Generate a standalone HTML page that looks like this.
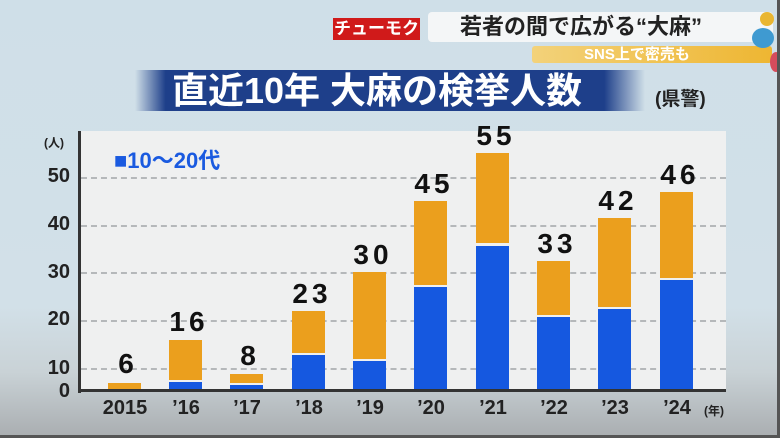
<!DOCTYPE html>
<html><head><meta charset="utf-8"><style>
*{margin:0;padding:0;box-sizing:border-box}
body{width:780px;height:438px;overflow:hidden;position:relative;font-family:"Liberation Sans","Noto Sans CJK JP",sans-serif;
background:linear-gradient(180deg,#cfdfe8 0%,#d2e0e8 70%,#c9d2d6 85%,#a9adb0 100%)}
.a{position:absolute}
.bar{position:absolute;width:33px}
.o{background:#eb9f1d}.b{background:#1558e0}
.v{position:absolute;width:70px;text-align:center;font-weight:bold;font-size:28px;color:#111;letter-spacing:4px}
.x{position:absolute;width:70px;text-align:center;font-weight:bold;font-size:20px;color:#222}
.y{position:absolute;left:38px;width:32px;text-align:right;font-weight:bold;font-size:20px;color:#222}
.g{position:absolute;left:81px;width:645px;border-top:2px dashed #b5b8ba}
</style></head><body>
<div class="a" style="left:428px;top:12px;width:345px;height:30px;background:#f4f6f7;border-radius:4px"></div>
<div class="a" style="left:333px;top:18px;width:87px;height:22px;background:#d01a1a;color:#fff;font-weight:bold;font-size:17px;text-align:center;line-height:22px">チューモク</div>
<div class="a" style="left:460px;top:12px;width:280px;height:30px;font-weight:bold;font-size:22px;line-height:30px;color:#222">若者の間で広がる“大麻”</div>
<div class="a" style="left:532px;top:46px;width:240px;height:17px;background:linear-gradient(90deg,#f3d27a,#eeb632);border-radius:3px;color:#fff;font-weight:bold;font-size:15px;line-height:17px;padding-left:52px">SNS上で密売も</div>
<div class="a" style="left:760px;top:12px;width:14px;height:14px;border-radius:50%;background:#e9b632"></div>
<div class="a" style="left:752px;top:28px;width:22px;height:20px;border-radius:50%;background:#3f9ad1"></div>
<div class="a" style="left:770px;top:52px;width:12px;height:20px;border-radius:50%;background:#d64c5c"></div>
<div class="a" style="left:135px;top:70px;width:510px;height:41px;background:linear-gradient(90deg,rgba(30,60,130,0) 0%,#1e3f8a 6%,#1e3f8a 92%,rgba(30,60,130,0) 100%)"></div>
<div class="a" style="left:172px;top:70px;height:41px;line-height:41px;color:#fff;font-size:36px;font-weight:bold;white-space:nowrap">直近10年 大麻の検挙人数</div>
<div class="a" style="left:655px;top:84px;font-weight:bold;font-size:19px;color:#222">(県警)</div>
<div class="a" style="left:81px;top:131px;width:645px;height:260px;background:#eff0f0"></div>
<div class="g" style="top:177px"></div><div class="g" style="top:225px"></div><div class="g" style="top:272px"></div><div class="g" style="top:320px"></div><div class="g" style="top:368px"></div>
<div class="a" style="left:78px;top:131px;width:3px;height:262px;background:#333"></div>
<div class="a" style="left:78px;top:389px;width:648px;height:3px;background:#333"></div>
<div class="a" style="left:44px;top:134px;font-weight:bold;font-size:12px;color:#222">(人)</div>
<div class="a" style="left:114px;top:143px;font-weight:bold;font-size:22px;color:#1a5ae0">■10～20代</div>
<div class="y" style="top:165px">50</div><div class="y" style="top:213px">40</div><div class="y" style="top:261px">30</div><div class="y" style="top:308px">20</div><div class="y" style="top:357px">10</div><div class="y" style="top:380px">0</div>

<div class="bar o" style="left:108px;top:383px;height:6px"></div>
<div class="bar o" style="left:169px;top:340px;height:40px"></div><div class="bar b" style="left:169px;top:382px;height:7px"></div>
<div class="bar o" style="left:230px;top:374px;height:9px"></div><div class="bar b" style="left:230px;top:385px;height:4px"></div>
<div class="bar o" style="left:292px;top:311px;height:42px"></div><div class="bar b" style="left:292px;top:355px;height:34px"></div>
<div class="bar o" style="left:353px;top:272px;height:87px"></div><div class="bar b" style="left:353px;top:361px;height:28px"></div>
<div class="bar o" style="left:414px;top:201px;height:84px"></div><div class="bar b" style="left:414px;top:287px;height:102px"></div>
<div class="bar o" style="left:476px;top:153px;height:90px"></div><div class="bar b" style="left:476px;top:246px;height:143px"></div>
<div class="bar o" style="left:537px;top:261px;height:54px"></div><div class="bar b" style="left:537px;top:317px;height:72px"></div>
<div class="bar o" style="left:598px;top:218px;height:89px"></div><div class="bar b" style="left:598px;top:309px;height:80px"></div>
<div class="bar o" style="left:660px;top:192px;height:86px"></div><div class="bar b" style="left:660px;top:280px;height:109px"></div>

<div class="v" style="left:93px;top:348px">6</div>
<div class="v" style="left:154px;top:306px">16</div>
<div class="v" style="left:215px;top:340px">8</div>
<div class="v" style="left:277px;top:278px">23</div>
<div class="v" style="left:338px;top:239px">30</div>
<div class="v" style="left:399px;top:168px">45</div>
<div class="v" style="left:461px;top:120px">55</div>
<div class="v" style="left:522px;top:228px">33</div>
<div class="v" style="left:583px;top:185px">42</div>
<div class="v" style="left:645px;top:159px">46</div>

<div class="x" style="left:90px;top:397px">2015</div>
<div class="x" style="left:151px;top:397px">’16</div>
<div class="x" style="left:212px;top:397px">’17</div>
<div class="x" style="left:274px;top:397px">’18</div>
<div class="x" style="left:335px;top:397px">’19</div>
<div class="x" style="left:396px;top:397px">’20</div>
<div class="x" style="left:458px;top:397px">’21</div>
<div class="x" style="left:519px;top:397px">’22</div>
<div class="x" style="left:580px;top:397px">’23</div>
<div class="x" style="left:642px;top:397px">’24</div>
<div class="a" style="left:704px;top:402px;font-weight:bold;font-size:12px;color:#222">(年)</div>
<div class="a" style="left:777px;top:0;width:3px;height:438px;background:#555"></div>
<div class="a" style="left:0;top:435px;width:780px;height:3px;background:#555"></div>
</body></html>
